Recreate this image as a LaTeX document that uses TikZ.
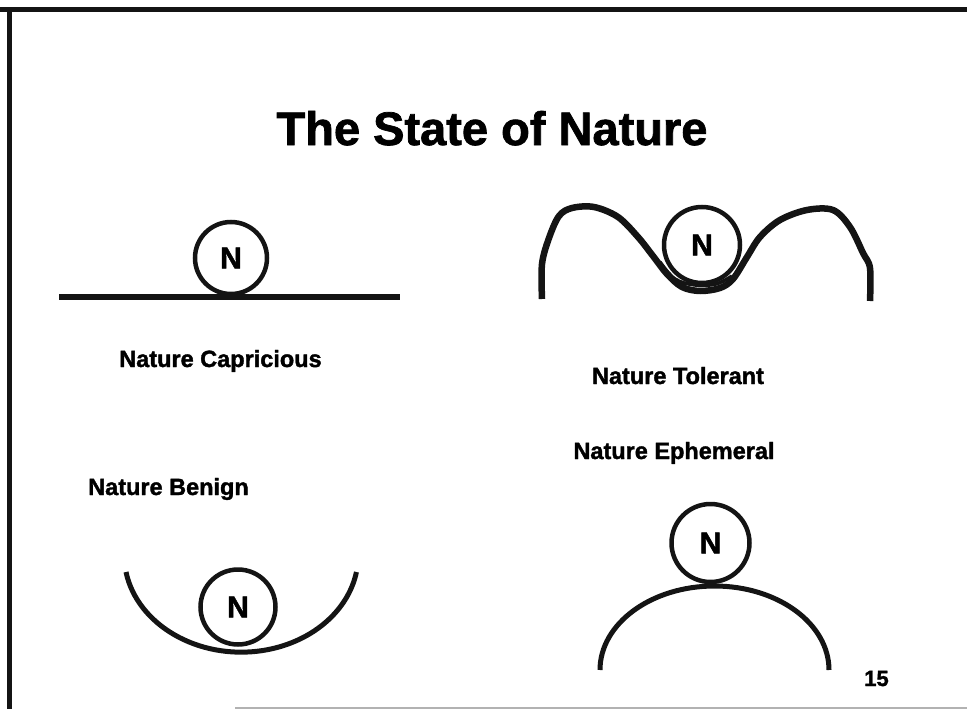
\documentclass[tikz,border=0pt]{standalone}
\usepackage{fontspec}
\setmainfont{Liberation Sans}
\newfontfamily\heavyfont{Liberation Sans Bold}[FakeBold=1.6]
\begin{document}
\begin{tikzpicture}[x=1pt,y=-1pt,
  ink/.style={draw=black!92},
  ball/.style={ink, circle, line width=4.5pt, inner sep=0pt, font=\fontsize{30}{32}\heavyfont},
  lab/.style={anchor=base, inner sep=0pt, font=\fontsize{23.5}{28}\heavyfont},
  ground/.style={ink, line width=6pt},
  curve/.style={ink, line width=5pt},
  frame/.style={ink, line width=5pt}]
\useasboundingbox (0,0) rectangle (967,709);
% frame
\draw[frame] (0,10) -- (967,10);
\draw[frame] (9.5,7.5) -- (9.5,709);
\draw[gray!60, line width=1.5pt] (235,708) -- (967,708);
% title
\node[anchor=base, inner sep=0pt, font=\fontsize{47}{52}\heavyfont] (title) at (492,145) {The State of Nature};
% Nature Capricious
\node[ball, minimum size=72pt] (nc) at (231,258) {N};
\draw[ground] (59,297) -- (400,297);
\node[lab] (lc) at (220.5,367) {Nature Capricious};
% Nature Tolerant
\node[ball, minimum size=76pt] (nt) at (702,245) {N};
\draw[ink, line width=6.5pt, line join=round, line cap=butt] plot[smooth, tension=0.55] coordinates {
 (542,299) (542,264) (549,238) (559,216) (572,208) (594,207) (618,217) (638,237) (653,256)
 (667,274) (682,287) (700,291) (720,288) (733,279) (747,257) (760,237) (780,220) (807,210)
 (833,210) (850,227) (863,253) (870,268) (870,301)};
\draw[ink, line width=3.5pt] plot[smooth, tension=0.6] coordinates {(660,262) (675,279) (695,285) (716,284) (732,276)};
\node[lab] (lt) at (678,384) {Nature Tolerant};
% Nature Ephemeral
\node[lab] (le) at (674,459) {Nature Ephemeral};
\node[ball, minimum size=78pt] (ne) at (710.5,543) {N};
\draw[curve] (600,670) arc[start angle=180, end angle=360, x radius=114.5, y radius=84];
% Nature Benign
\node[lab] (lb) at (168.5,495) {Nature Benign};
\node[ball, minimum size=75pt] (nb) at (238,607) {N};
\draw[curve] (126,572) arc[start angle=170, end angle=10, x radius=117, y radius=97];
% page number
\node[anchor=base, inner sep=0pt, font=\fontsize{22}{24}\heavyfont] (pg) at (876.5,686) {15};
\end{tikzpicture}
\end{document}
